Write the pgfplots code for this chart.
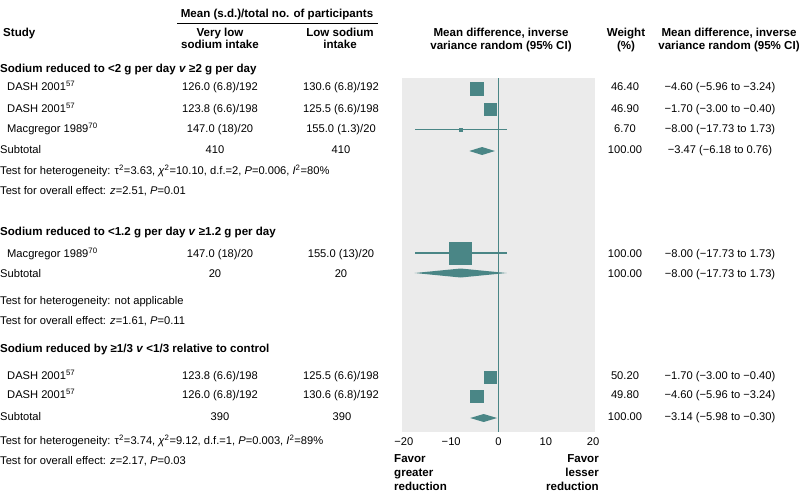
\documentclass[border=0pt]{standalone}
\usepackage{pgfplots}
\pgfplotsset{compat=1.18}
\usepackage{pgfplotstable}
\usepackage{fontspec}
\setmainfont{Liberation Sans}
\definecolor{tealc}{RGB}{74,134,134}
\definecolor{bggray}{RGB}{235,235,235}
\newcommand\fs{\fontsize{11.2}{13.4}\selectfont}
\newcommand\fb{\fontsize{11.6}{13.9}\selectfont\bfseries}

% study estimates: md, row y (px from top), error minus, error plus, half side of square
\pgfplotstableread{
md     y      em    ep    s
-4.60  88.5   1.36  1.36  6.3
-1.70  109.5  1.30  1.30  5.9
-8.00  129.5  9.73  9.73  1.8
-8.00  253    9.73  9.73  11.0
-1.70  377    1.30  1.30  6.1
-4.60  396.5  1.36  1.36  6.1
}\studies
% pooled (subtotal) diamonds
\pgfplotstableread{
x      y
-6.18  151
-3.47  147
-0.76  151
-3.47  155
}\subA
\pgfplotstableread{
x      y
-17.73 273
-8.00  268.5
1.73   273
-8.00  277.5
}\subB
\pgfplotstableread{
x      y
-5.98  418
-3.14  414
-0.30  418
-3.14  422
}\subC

\begin{document}
\begin{tikzpicture}
\useasboundingbox (0,0) rectangle (799bp,-495bp);
\begin{axis}[
  at={(402bp,-432bp)}, anchor=south west,
  scale only axis, width=193bp, height=354bp,
  xmin=-20.4, xmax=20.4, ymin=78, ymax=432, y dir=reverse,
  axis background/.style={fill=bggray},
  axis line style={draw=none},
  ytick=\empty,
  xtick={-20,-10,0,10,20},
  xticklabels={−20,−10,0,10,20},
  major tick length=0pt,
  xticklabel style={font=\fs, inner sep=0pt, text height=8bp, text depth=2.3bp, yshift=-5.5bp},
  clip=false,
]
\addplot[tealc, line width=1.3bp] coordinates {(0,78) (0,432)};
\addplot[only marks, mark=square*, scatter,
  scatter/use mapped color={draw=tealc, fill=tealc},
  visualization depends on={\thisrow{s}\as\ms},
  scatter/@pre marker code/.append style={/tikz/mark size=\ms bp},
  error bars/.cd, x dir=both, x explicit, error mark=none,
  error bar style={line width=1.2bp, tealc}]
  table[x=md, y=y, x error minus=em, x error plus=ep] {\studies};
\addplot[fill=tealc, draw=none] table[x=x,y=y] {\subA} --cycle;
\addplot[fill=tealc, draw=none] table[x=x,y=y] {\subB} --cycle;
\addplot[fill=tealc, draw=none] table[x=x,y=y] {\subC} --cycle;
\end{axis}

\begin{scope}[x=1bp, y=-1bp,
  t/.style={font=\fs, inner sep=0pt, text height=8bp, text depth=2.3bp},
  b/.style={font=\fb, inner sep=0pt, text height=8.3bp, text depth=2.4bp},
  L/.style={anchor=west}, C/.style={anchor=center}, R/.style={anchor=east}]
% headers
\node[b,C] at (277,15) {Mean (s.d.)/total no. of participants};
\draw[line width=0.9bp] (177,23) -- (378,23);
\node[b,L] at (3,34) {Study};
\node[b,C] at (220,34) {Very low};
\node[b,C] at (220,46) {sodium intake};
\node[b,C] at (340,34) {Low sodium};
\node[b,C] at (340,46) {intake};
\node[b,C] at (501,34) {Mean difference, inverse};
\node[b,C] at (501,47) {variance random (95\% CI)};
\node[b,C] at (626,34) {Weight};
\node[b,C] at (626,47) {(\%)};
\node[b,C] at (729,34) {Mean difference, inverse};
\node[b,C] at (729,47) {variance random (95\% CI)};
% section 1
\node[b,L] at (0,70) {Sodium reduced to {<}2 g per day \textit{v} ≥2 g per day};
\node[t,L] at (7,88) {DASH 2001\textsuperscript{57}};
\node[t,C] at (220,88) {126.0 (6.8)/192};
\node[t,C] at (341,88) {130.6 (6.8)/192};
\node[t,C] at (625,88) {46.40};
\node[t,C] at (720,88) {−4.60 (−5.96 to −3.24)};
\node[t,L] at (7,110) {DASH 2001\textsuperscript{57}};
\node[t,C] at (220,110) {123.8 (6.6)/198};
\node[t,C] at (341,110) {125.5 (6.6)/198};
\node[t,C] at (625,110) {46.90};
\node[t,C] at (720,110) {−1.70 (−3.00 to −0.40)};
\node[t,L] at (7,130) {Macgregor 1989\textsuperscript{70}};
\node[t,C] at (220,130) {147.0 (18)/20};
\node[t,C] at (341,130) {155.0 (1.3)/20};
\node[t,C] at (625,130) {6.70};
\node[t,C] at (720,130) {−8.00 (−17.73 to 1.73)};
\node[t,L] at (0,151) {Subtotal};
\node[t,C] at (215,151) {410};
\node[t,C] at (341,151) {410};
\node[t,C] at (625,151) {100.00};
\node[t,C] at (720,151) {−3.47 (−6.18 to 0.76)};
\node[t,L] at (0,172) {Test for heterogeneity: τ\textsuperscript{2}=3.63, \textit{χ}\textsuperscript{2}=10.10, d.f.=2, \textit{P}=0.006, \textit{I}\textsuperscript{2}=80\%};
\node[t,L] at (0,192) {Test for overall effect: \textit{z}=2.51, \textit{P}=0.01};
% section 2
\node[b,L] at (0,233) {Sodium reduced to {<}1.2 g per day \textit{v} ≥1.2 g per day};
\node[t,L] at (7,255) {Macgregor 1989\textsuperscript{70}};
\node[t,C] at (220,255) {147.0 (18)/20};
\node[t,C] at (341,255) {155.0 (13)/20};
\node[t,C] at (625,255) {100.00};
\node[t,C] at (720,255) {−8.00 (−17.73 to 1.73)};
\node[t,L] at (0,275) {Subtotal};
\node[t,C] at (215,275) {20};
\node[t,C] at (341,275) {20};
\node[t,C] at (625,275) {100.00};
\node[t,C] at (720,275) {−8.00 (−17.73 to 1.73)};
\node[t,L] at (0,302) {Test for heterogeneity: not applicable};
\node[t,L] at (0,322) {Test for overall effect: \textit{z}=1.61, \textit{P}=0.11};
% section 3
\node[b,L] at (0,350) {Sodium reduced by ≥1/3 \textit{v} {<}1/3 relative to control};
\node[t,L] at (7,377) {DASH 2001\textsuperscript{57}};
\node[t,C] at (220,377) {123.8 (6.6)/198};
\node[t,C] at (341,377) {125.5 (6.6)/198};
\node[t,C] at (625,377) {50.20};
\node[t,C] at (720,377) {−1.70 (−3.00 to −0.40)};
\node[t,L] at (7,396) {DASH 2001\textsuperscript{57}};
\node[t,C] at (220,396) {126.0 (6.8)/192};
\node[t,C] at (341,396) {130.6 (6.8)/192};
\node[t,C] at (625,396) {49.80};
\node[t,C] at (720,396) {−4.60 (−5.96 to −3.24)};
\node[t,L] at (0,418) {Subtotal};
\node[t,C] at (220,418) {390};
\node[t,C] at (342,418) {390};
\node[t,C] at (625,418) {100.00};
\node[t,C] at (720,418) {−3.14 (−5.98 to −0.30)};
\node[t,L] at (0,442) {Test for heterogeneity: τ\textsuperscript{2}=3.74, \textit{χ}\textsuperscript{2}=9.12, d.f.=1, \textit{P}=0.003, \textit{I}\textsuperscript{2}=89\%};
\node[t,L] at (0,462) {Test for overall effect: \textit{z}=2.17, \textit{P}=0.03};
% favour labels
\node[b,L] at (394,460) {Favor};
\node[b,L] at (394,474) {greater};
\node[b,L] at (394,488) {reduction};
\node[b,R] at (599,460) {Favor};
\node[b,R] at (599,474) {lesser};
\node[b,R] at (599,488) {reduction};
\end{scope}
\end{tikzpicture}
\end{document}
